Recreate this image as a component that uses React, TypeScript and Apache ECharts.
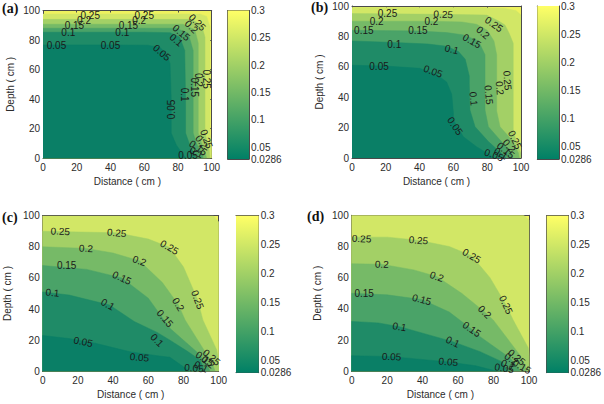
import React, { useEffect, useRef } from "react";
import * as echarts from "echarts";

type Pt = number[];
type Lbl = [number, number, string, number];

// Fill colour of each band, from the lowest band up; the last one is the panel background.
const bandColors = ["#0a7f66", "#1f8b67", "#4aa368", "#76ba67", "#a3d066", "#d2e766", "#eef25f"];
const barTicks = [0.05, 0.1, 0.15, 0.2, 0.25, 0.3];
const barLabels = [0.0286, 0.05, 0.1, 0.15, 0.2, 0.25, 0.3];

const contoursA: Pt[][] = [
  [[0, 76.7], [40, 76.7], [62, 76.5], [69.4, 75], [73.5, 70], [75.3, 64], [76, 40], [76, 17], [79, 9], [84, 1], [85, 0]],
  [[0, 85.3], [60, 85.3], [75.3, 85], [81, 82], [84, 73], [84.5, 40], [84.5, 17], [87, 9], [90, 2], [91, 0]],
  [[0, 88], [60, 88], [79, 88], [86, 84.6], [89, 73], [89, 40], [89, 17], [91, 10], [94, 3.4], [95, 0]],
  [[0, 90.7], [60, 90.7], [83, 90.7], [90, 87], [92, 78], [92, 40], [92, 17], [94, 10], [96, 4.5], [97, 0]],
  [[0, 94], [60, 94], [88, 94], [94, 90], [96, 82], [96, 40], [96, 17], [98.5, 5.6], [99, 0]],
  [[0, 97.6], [60, 97.6], [93, 97.6], [97, 96], [99, 89], [99, 17], [100, 8], [100, 0]],
];
const contoursB: Pt[][] = [
  [[0, 61], [20, 60.5], [40, 59], [50, 55], [56, 50], [59, 42], [60, 29.5], [60, 25], [65.9, 14], [73.7, 7.4], [81.7, 2], [84, 0]],
  [[0, 77], [25, 76], [45, 75], [56, 73.5], [63, 70], [67, 65], [69.4, 54], [69.4, 49], [69.8, 31.6], [72.8, 20.6], [80.7, 10.8], [89.5, 2], [91, 0]],
  [[0, 84], [39, 83.6], [56, 82.5], [66, 81], [74.8, 77], [78.7, 68], [78.7, 31.6], [80.7, 20.6], [87.6, 11.8], [94.5, 3.3], [95, 0]],
  [[0, 90], [47, 90], [65, 89.5], [73.7, 88], [80, 84], [84, 77], [85.6, 68], [85.6, 31], [87.6, 20.6], [94.5, 11.8], [98.5, 3.3], [99, 0]],
  [[0, 95], [54, 94.5], [79.7, 94], [87, 90], [90.5, 87.5], [93, 82], [95.4, 75.5], [95.4, 49], [95.4, 18], [98, 8], [100, 3], [100, 0]],
  [[0, 99], [70, 99], [90, 98.5], [97, 97], [100, 94], [100, 0]],
];
const contoursC: Pt[][] = [
  [[0, 23], [15, 21], [30, 18], [49.6, 12.5], [65, 10], [72.3, 9], [81.8, 1.4], [83, 0]],
  [[0, 51], [15, 49], [38, 42.6], [52, 32], [65, 25], [72.3, 20], [82, 13], [89.4, 7.3], [92, 0]],
  [[0, 68], [25, 65.5], [45, 60], [60, 47], [69.5, 32], [72.3, 27.6], [88.4, 11.6], [94, 3], [95, 0]],
  [[0, 80], [24.6, 79], [40, 76], [55, 71], [68, 57], [77, 43], [80.9, 33], [94, 9.4], [97, 3], [98, 0]],
  [[0, 90], [42, 89], [60, 85], [72, 79.7], [80, 67], [88, 46], [91, 33], [98.9, 13.7], [100, 6], [100, 0]],
  [[0, 100], [97, 100], [100, 96], [100, 0]],
];
const contoursD: Pt[][] = [
  [[0, 10], [22.5, 9.4], [54.5, 6], [70, 3.5], [82, 0]],
  [[0, 32], [15, 31], [27, 28.6], [57, 19], [72.4, 12.6], [84.6, 6.2], [88, 0]],
  [[0, 50], [20, 49], [39.5, 46], [55, 38], [67.7, 27], [72.4, 22.2], [89.3, 8.5], [94, 2], [95, 0]],
  [[0, 69], [17, 68.6], [35, 65], [48, 60.7], [62, 50], [75, 38], [79.9, 32.8], [94.9, 10.3], [98, 3], [99, 0]],
  [[0, 86], [20, 86], [37.6, 84], [55, 80], [67.7, 74], [78, 60], [87, 42.6], [91, 33], [99.6, 15], [100, 10], [100, 0]],
  [[0, 100], [97, 100], [100, 97], [100, 0]],
];

const labelsA: Lbl[] = [
  [28, 96.6, "0.25", 0], [24.3, 93.2, "0.2", 0], [18.6, 89.8, "0.15", 0], [15, 85, "0.1", 0], [8, 76, "0.05", 0],
  [60, 96.6, "0.25", 0], [57, 93.2, "0.2", 0], [50.6, 89.8, "0.15", 0], [47, 85, "0.1", 0], [40, 76, "0.05", 0],
  [91.5, 92, "0.25", -45], [88, 89, "0.2", -45], [82, 85, "0.15", -40], [79, 80, "0.1", -40], [70.5, 71.5, "0.05", -40],
  [97, 53.5, "0.25", -90], [92, 53, "0.2", -90], [89.7, 48, "0.15", -90], [84, 43, "0.1", -90], [76, 33, "0.05", 90],
  [97, 13, "0.25", -70], [94, 11, "0.2", -55], [92, 7, "0.15", -35], [91, 4, "0.1", -25], [86, 2, "0.05", 0],
];
const labelsB: Lbl[] = [
  [21, 95, "0.25", 0], [14.6, 90, "0.2", 0], [7, 83.6, "0.15", 0], [25, 75, "0.1", 0], [16, 60.5, "0.05", 0],
  [54, 94.5, "0.25", -3], [47, 90, "0.2", 0], [39, 83.6, "0.15", 0], [59, 71.5, "0.1", -15], [48, 57, "0.05", -20],
  [84, 88, "0.25", -35], [77.5, 82.5, "0.2", -40], [71, 77, "0.15", -30],
  [92, 51, "0.25", -85], [87.5, 46, "0.2", -85], [81, 41.6, "0.15", -85], [72, 39, "0.1", -85], [61, 21, "0.05", -55],
  [96.4, 12, "0.25", -65], [93, 8, "0.2", -50], [91, 5, "0.15", -40], [88, 3, "0.1", -30], [84, 2, "0.05", -20],
];
const labelsC: Lbl[] = [
  [10, 90, "0.25", -2], [42, 89, "0.25", -5], [24.6, 79, "0.2", -3], [55, 71, "0.2", -20],
  [13.6, 67.7, "0.15", 0], [45, 60, "0.15", -25], [5.5, 50.5, "0.1", -5], [37, 43, "0.1", -30],
  [23, 19, "0.05", -12], [55, 9, "0.05", -5],
  [72, 79.7, "0.25", -30], [88, 46, "0.25", -70], [77, 43, "0.2", -60], [69.5, 34, "0.15", -50], [65, 20, "0.1", -45],
  [96, 9, "0.25", -40], [94, 6, "0.2", -40], [92, 8, "0.15", -35], [90, 3, "0.1", -25], [86, 2, "0.05", -5],
];
const labelsD: Lbl[] = [
  [5.6, 85, "0.25", -2], [37.6, 84, "0.25", -5], [17, 68.6, "0.2", -3], [48, 60.7, "0.2", -20],
  [7, 50, "0.15", 0], [39.5, 46, "0.15", -15], [27, 28.6, "0.1", -10], [57, 19, "0.1", -25],
  [22.5, 9.4, "0.05", -3], [54.5, 6, "0.05", -5],
  [67.7, 74, "0.25", -30], [87, 42.6, "0.25", -65], [75, 38, "0.2", -45], [67.7, 27, "0.15", -35],
  [93, 9, "0.25", -40], [90, 8, "0.2", -35], [96, 3, "0.15", -30], [88, 4, "0.1", -25], [86, 2, "0.05", -10],
];

// Pixel boxes of the plots and colour bars, with the name offsets of the axes.
const panels = [
  { tag: "(a)", contours: contoursA, labels: labelsA, g: [43, 10.5, 168.7, 147.7], b: [227.7, 10.5, 21.3, 148.5], tagPos: [2, 9], yGap: 28, xGap: 18 },
  { tag: "(b)", contours: contoursB, labels: labelsB, g: [352, 6, 169, 152], b: [537.3, 6, 21.7, 153], tagPos: [311, 8], yGap: 28, xGap: 18 },
  { tag: "(c)", contours: contoursC, labels: labelsC, g: [42.7, 215.7, 176, 155.6], b: [236, 215.7, 22.7, 157], tagPos: [2, 218], yGap: 30, xGap: 18 },
  { tag: "(d)", contours: contoursD, labels: labelsD, g: [351.7, 215.3, 177.3, 156], b: [546.7, 215.7, 22.3, 157], tagPos: [307, 217], yGap: 29, xGap: 18 },
];

const FONT = "Liberation Sans";
const INK = "#2b2b2b";
const LINE = "#4a4a4a";

function buildOption() {
  const grid: any[] = [];
  const xAxis: any[] = [];
  const yAxis: any[] = [];
  const series: any[] = [];
  const graphic: any[] = [];
  const line = { show: true, onZero: false, lineStyle: { color: LINE, width: 1 } };
  const tick = { show: true, inside: true, length: 2, lineStyle: { color: LINE, width: 1 } };
  const lab = { color: INK, fontFamily: FONT, fontSize: 10 };

  panels.forEach((p, i) => {
    const gi = i * 2;
    grid.push({ left: p.g[0], top: p.g[1], width: p.g[2], height: p.g[3], show: true, borderWidth: 0, backgroundColor: bandColors[6] });
    grid.push({ left: p.b[0], top: p.b[1], width: p.b[2], height: p.b[3], show: false });
    const xBase = xAxis.length;
    const yBase = yAxis.length;
    const common = { type: "value", min: 0, max: 100, interval: 20, gridIndex: gi, splitLine: { show: false }, axisLine: line, axisTick: tick };
    xAxis.push({
      ...common, position: "bottom", name: "Distance ( cm )", nameLocation: "middle", nameGap: p.xGap,
      nameTextStyle: lab, axisLabel: { ...lab, margin: 4, hideOverlap: false, showMinLabel: true, showMaxLabel: true },
    });
    xAxis.push({ ...common, position: "top", axisLabel: { show: false } });
    yAxis.push({
      ...common, position: "left", name: "Depth ( cm )", nameLocation: "middle", nameGap: p.yGap,
      nameTextStyle: lab, axisLabel: { ...lab, margin: 3, hideOverlap: false, showMinLabel: true, showMaxLabel: true },
    });
    yAxis.push({ ...common, position: "right", axisLabel: { show: false } });

    // Colour bar axes
    const xb = xAxis.length;
    xAxis.push({ type: "value", min: 0, max: 1, gridIndex: gi + 1, position: "bottom", axisLine: line, axisTick: { show: false }, axisLabel: { show: false }, splitLine: { show: false } });
    xAxis.push({ type: "value", min: 0, max: 1, gridIndex: gi + 1, position: "top", axisLine: line, axisTick: { show: false }, axisLabel: { show: false }, splitLine: { show: false } });
    const yb = yAxis.length;
    yAxis.push({
      type: "value", min: 0.0286, max: 0.3, gridIndex: gi + 1, position: "right", splitLine: { show: false }, axisLine: line,
      axisTick: { ...tick, customValues: barTicks },
      axisLabel: { ...lab, margin: 2, customValues: barLabels, formatter: (v: number) => String(v), hideOverlap: false, showMinLabel: true, showMaxLabel: true },
    });
    yAxis.push({
      type: "value", min: 0.0286, max: 0.3, gridIndex: gi + 1, position: "left", splitLine: { show: false }, axisLine: line,
      axisTick: { show: false }, axisLabel: { show: false },
    });

    series.push({
      type: "custom", xAxisIndex: xBase, yAxisIndex: yBase, silent: true, clip: true,
      data: [...p.contours].reverse().map((c) => c[0]),
      renderItem: (params: any, api: any) => {
        const idx = p.contours.length - 1 - params.dataIndex;
        const pts = [...p.contours[idx], [0, 0]].map((q) => api.coord(q));
        return { type: "polygon", shape: { points: pts }, style: { fill: bandColors[idx], stroke: bandColors[idx], lineWidth: 0.5 } };
      },
    });
    series.push({
      type: "custom", xAxisIndex: xBase, yAxisIndex: yBase, silent: true, clip: false, z: 5,
      data: p.labels.map((l) => [l[0], l[1]]),
      renderItem: (params: any, api: any) => {
        const l = p.labels[params.dataIndex];
        const c = api.coord([l[0], l[1]]);
        return {
          type: "text", x: c[0], y: c[1], rotation: (l[3] * Math.PI) / 180,
          style: { text: l[2], fill: "#1a1a1a", font: `10px "${FONT}"`, align: "center", verticalAlign: "middle" },
        };
      },
    });
    series.push({
      type: "custom", xAxisIndex: xb, yAxisIndex: yb, silent: true, z: 1,
      data: [[0, 0.0286, 1, 0.3]],
      renderItem: (_: any, api: any) => {
        const a = api.coord([api.value(0), api.value(3)]);
        const b = api.coord([api.value(2), api.value(1)]);
        return {
          type: "rect", shape: { x: a[0], y: a[1], width: b[0] - a[0], height: b[1] - a[1] },
          style: { fill: new echarts.graphic.LinearGradient(0, 0, 0, 1, [{ offset: 0, color: "#ffff66" }, { offset: 1, color: "#008066" }]) },
        };
      },
    });
    graphic.push({
      type: "text", left: p.tagPos[0], top: p.tagPos[1] - 8,
      style: { text: p.tag, fill: "#111", font: 'bold 14px "Liberation Serif"' },
    });
  });
  return { animation: false, backgroundColor: "#fff", grid, xAxis, yAxis, series, graphic };
}

export default function App() {
  const ref = useRef<HTMLDivElement>(null);
  useEffect(() => {
    const chart = echarts.init(ref.current!, undefined, { renderer: "svg" });
    chart.setOption(buildOption());
    return () => chart.dispose();
  }, []);
  return <div ref={ref} style={{ position: "fixed", left: 0, top: 0, width: 604, height: 404 }} />;
}
